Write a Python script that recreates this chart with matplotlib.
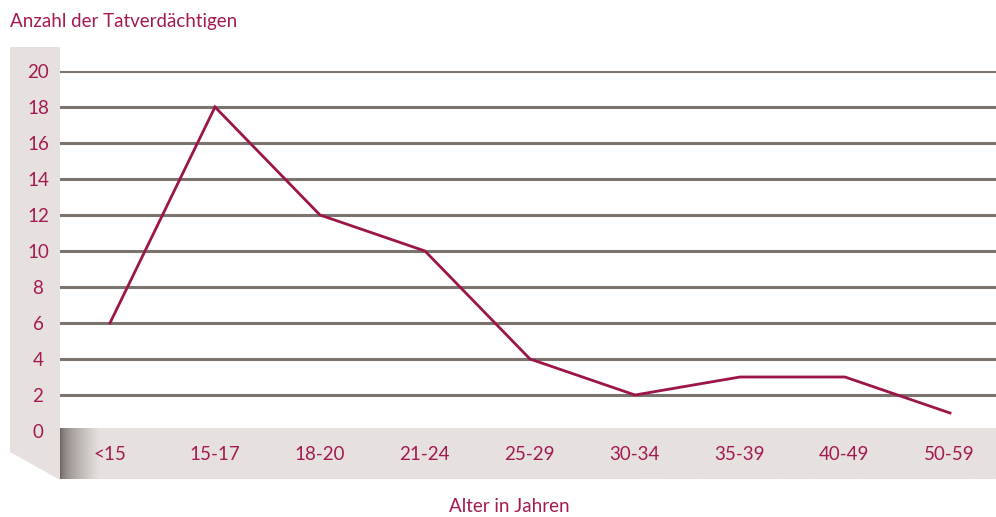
import numpy as np
import matplotlib.pyplot as plt
from matplotlib.patches import Polygon

plt.rcParams['font.family'] = ['Lato', 'DejaVu Sans']

altersgruppen = ["<15", "15-17", "18-20", "21-24", "25-29", "30-34", "35-39", "40-49", "50-59"]
tatverdaechtige = [6, 18, 12, 10, 4, 2, 3, 3, 1]
y_ticks = list(range(0, 21, 2))

W, H = 996, 517
rot = "#9c1549"
text_rot = "#a31a52"
band = "#e6e1df"
gitter = "#7b736e"

fig = plt.figure(figsize=(W / 100, H / 100), dpi=100)

def fx(px):
    return px / W

def fy(py):
    return 1 - py / H

# left band with slanted foot
fig.patches.append(Polygon([(fx(10), fy(47)), (fx(60), fy(47)), (fx(60), fy(480)),
                            (fx(10), fy(452))], closed=True, transform=fig.transFigure,
                           facecolor=band, edgecolor="none", zorder=0))

# bottom band with gradient on the left
gax = fig.add_axes([fx(60), fy(479), fx(996) - fx(60), fy(428) - fy(479)], zorder=0)
grad = np.ones(936)
ramp = np.linspace(0, 1, 40) ** 0.6
grad[:40] = ramp
c_dark = np.array([0x6e, 0x65, 0x60]) / 255
c_band = np.array([0xe6, 0xe1, 0xdf]) / 255
img = c_dark[None, :] + (c_band - c_dark)[None, :] * grad[:, None]
gax.imshow(img[None, :, :], aspect="auto", extent=[0, 1, 0, 1])
gax.axis("off")

# main axes
ax = fig.add_axes([fx(60), fy(431), fx(996) - fx(60), fy(71) - fy(431)], zorder=1)
ax.patch.set_alpha(0)
x = np.arange(len(altersgruppen))
ax.set_xlim(-50 / 105, (996 - 110) / 105)
ax.set_ylim(0, 20)
for yv in y_ticks[1:]:
    ax.axhline(yv, color=gitter, lw=2.2, zorder=1)
ax.plot(x, tatverdaechtige, color=rot, lw=2.0, zorder=3, solid_joinstyle="miter")

for s in ax.spines.values():
    s.set_visible(False)
ax.set_xticks([])
ax.set_yticks([])

for yv in y_ticks:
    ax.text(-0.476 - 22 / 105, yv - 0.1, str(yv), ha="center", va="center",
            color=text_rot, fontsize=13.5, clip_on=False)
for xi, lab in zip(x, altersgruppen):
    fig.text(fx(110 + 104.9 * xi), fy(455), lab, ha="center", va="center",
             color=text_rot, fontsize=13.5)

fig.text(fx(10), fy(22), "Anzahl der Tatverdächtigen", ha="left", va="center",
         color=text_rot, fontsize=13.5)
fig.text(fx(509), fy(507), "Alter in Jahren", ha="center", va="center",
         color=text_rot, fontsize=13.5)

fig.savefig("out.png", dpi=100)
